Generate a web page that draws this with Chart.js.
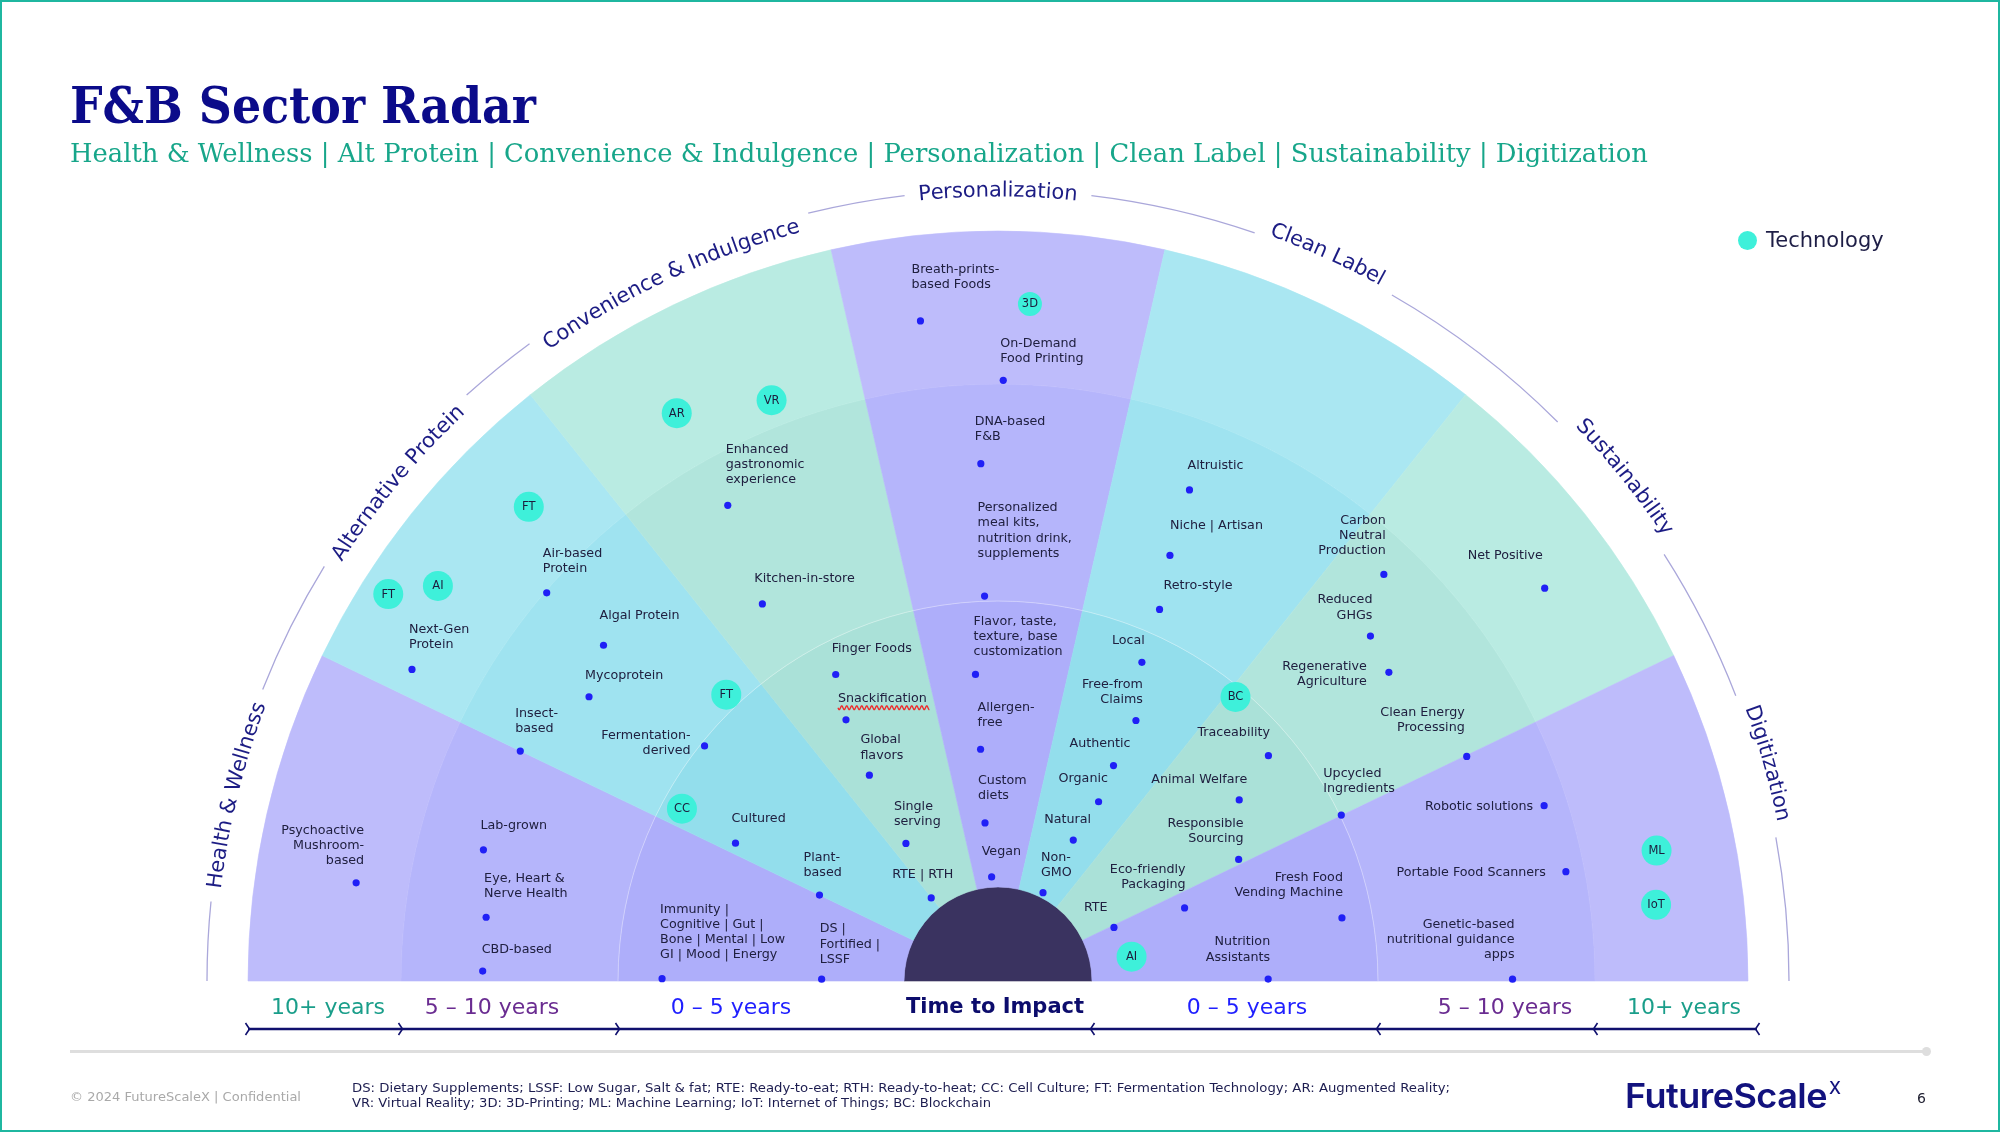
<!DOCTYPE html>
<html>
<head>
<meta charset="utf-8">
<title>F&amp;B Sector Radar</title>
<script src="https://cdn.jsdelivr.net/npm/chart.js@4.4.1/dist/chart.umd.min.js"></script>
<style>
  html, body { margin:0; padding:0; background:#ffffff; }
  #page { position:relative; width:2000px; height:1132px; overflow:hidden; background:#ffffff; }
  #page canvas { position:absolute; left:0; top:0; }
  .t { position:absolute; white-space:nowrap; line-height:1; transform-origin:0 50%; }
  #frame { position:absolute; left:0; top:0; width:2000px; height:1132px; box-sizing:border-box; border:2px solid #1fb7a0; pointer-events:none; }
</style>
</head>
<body>
<div id="page">
  <canvas id="sectorsCanvas" width="2000" height="1132"></canvas>
  <canvas id="radarCanvas" width="2000" height="1132"></canvas>

  <div class="t" data-w="466" style="left:70px;top:81px;font-weight:bold;font-size:50px;font-family:'DejaVu Serif';color:#0b0b8a;">F&amp;B Sector Radar</div>
  <div class="t" data-w="1578" style="left:70px;top:139.5px;font-size:26px;font-family:'DejaVu Serif';color:#17a68a;">Health &amp; Wellness | Alt Protein | Convenience &amp; Indulgence | Personalization | Clean Label | Sustainability | Digitization</div>

  <div style="position:absolute;left:1738px;top:230.5px;width:19px;height:19px;border-radius:50%;background:#3ef0da;"></div>
  <div class="t" style="left:1766px;top:229.5px;font-size:21px;font-family:'DejaVu Sans';color:#1e1e46;">Technology</div>

  <div style="position:absolute;left:70px;top:1049.5px;width:1856px;height:3px;background:#dedede;"></div>
  <div style="position:absolute;left:1921.5px;top:1046.5px;width:9px;height:9px;border-radius:50%;background:#dedede;"></div>

  <div class="t" data-w="231" style="left:70px;top:1089.5px;font-size:13px;font-family:'DejaVu Sans';color:#a9a9a9;">© 2024 FutureScaleX | Confidential</div>
  <div class="t" data-w="1098" style="left:352px;top:1082px;font-size:12.5px;font-family:'DejaVu Sans';color:#1d1d50;">DS: Dietary Supplements; LSSF: Low Sugar, Salt &amp; fat; RTE: Ready-to-eat; RTH: Ready-to-heat; CC: Cell Culture; FT: Fermentation Technology; AR: Augmented Reality;</div>
  <div class="t" data-w="639" style="left:352px;top:1097px;font-size:12.5px;font-family:'DejaVu Sans';color:#1d1d50;">VR: Virtual Reality; 3D: 3D-Printing; ML: Machine Learning; IoT: Internet of Things; BC: Blockchain</div>

  <div class="t" data-w="202" style="left:1625px;top:1078.6px;font-size:34.4px;font-family:Inter;font-weight:600;color:#12127e;letter-spacing:-0.5px;">FutureScale</div>
  <div class="t" style="left:1829px;top:1080px;font-size:17px;font-family:Inter;font-weight:500;color:#12127e;">X</div>
  <div class="t" style="left:1917px;top:1090.7px;font-size:14px;font-family:'DejaVu Sans';color:#222233;">6</div>

  <div id="frame"></div>
</div>

<script>
// ================= DATA =================
const sectors = ['Health & Wellness', 'Alternative Protein', 'Convenience & Indulgence', 'Personalization', 'Clean Label', 'Sustainability', 'Digitization'];
const horizonLabels = ['0 – 5 years', '5 – 10 years', '10+ years'];
const horizonYears = [0, 5, 10, 15];

const trendLabels = [
  'Psychoactive\nMushroom-\nbased', 'Lab-grown', 'Eye, Heart &\nNerve Health', 'CBD-based',
  'Immunity |\nCognitive | Gut |\nBone | Mental | Low\nGI | Mood | Energy', 'DS |\nFortified |\nLSSF',
  'Next-Gen\nProtein', 'Air-based\nProtein', 'Algal Protein', 'Mycoprotein', 'Insect-\nbased',
  'Fermentation-\nderived', 'Cultured', 'Plant-\nbased',
  'Enhanced\ngastronomic\nexperience', 'Kitchen-in-store', 'Finger Foods', 'Snackification',
  'Global\nflavors', 'Single\nserving', 'RTE | RTH',
  'Breath-prints-\nbased Foods', 'On-Demand\nFood Printing', 'DNA-based\nF&B',
  'Personalized\nmeal kits,\nnutrition drink,\nsupplements', 'Flavor, taste,\ntexture, base\ncustomization',
  'Allergen-\nfree', 'Custom\ndiets', 'Vegan',
  'Altruistic', 'Niche | Artisan', 'Retro-style', 'Local', 'Free-from\nClaims', 'Authentic',
  'Organic', 'Natural', 'Non-\nGMO',
  'Carbon\nNeutral\nProduction', 'Net Positive', 'Reduced\nGHGs', 'Regenerative\nAgriculture',
  'Clean Energy\nProcessing', 'Upcycled\nIngredients', 'Traceability', 'Animal Welfare',
  'Responsible\nSourcing', 'Eco-friendly\nPackaging', 'RTE',
  'Nutrition\nAssistants', 'Fresh Food\nVending Machine', 'Robotic solutions', 'Portable Food Scanners',
  'Genetic-based\nnutritional guidance\napps'
];
const trendSector = [0,0,0,0,0,0, 1,1,1,1,1,1,1,1, 2,2,2,2,2,2,2, 3,3,3,3,3,3,3,3, 4,4,4,4,4,4,4,4,4, 5,5,5,5,5,5,5,5,5,5,5, 6,6,6,6,6];
// angle on the half circle (degrees, 180 = left, 0 = right)
const trendAngle = [171.3,165.7,172.9,178.9,179.6,179.4, 152.0,139.3,139.6,145.2,154.3,141.3,152.3,154.3,
  119.6,122.0,117.9,120.2,122.0,123.8,128.8, 96.7,89.5,91.9,92.0,94.2,94.3,94.7,93.5,
  68.7,68.0,66.5,65.7,62.1,61.8,60.7,61.9,63.0, 46.5,35.7,42.8,38.3,25.6,25.8,39.8,36.9,26.8,21.4,24.8,
  0.4,10.4,17.8,10.9,0.2];
// time to impact (years)
const trendYears = [11.71,8.48,8.13,8.12,4.23,1.44, 12.18,9.96,8.18,7.72,8.46,4.93,3.54,1.82,
  8.85,6.49,4.42,3.64,2.60,1.25,0.22, 12.21,10.12,8.17,5.12,3.73,2.42,1.13,0.18,
  8.39,6.82,5.58,4.47,3.51,2.63,1.95,1.15,0.09, 9.16,12.49,7.94,7.72,8.22,5.03,4.51,3.63,3.07,1.86,0.59,
  3.08,4.47,9.46,9.57,8.10];

const techLabels = ['FT','AI','FT','FT','CC','AR','VR','3D','BC','AI','ML','IoT'];
const techSector = [1,1,1,1,1,2,2,3,5,6,6,6];
const techAngle = [147.6,144.8,134.7,133.5,151.4,119.5,111.3,87.3,50.1,10.3,11.2,6.6];
const techYears = [14.09,12.89,12.29,5.34,4.65,11.81,10.86,12.64,4.83,0.73,12.43,12.14];

// ================= LAYOUT / STYLE =================
const W = 2000, H = 1132;
const CX = 998, CY = 981;                 // centre of the half radar
const RING_R = [94, 380, 597, 750];       // radius (px) at 0, 5, 10, 15 years
const LABEL_ARC_R = 791;
const sectorLabelAngle = [166.3, 140.3, 115.1, 90, 65.6, 38.8, 15.8];
const sectorLabelR = [788, 784, 780, 790, 799, 806, 801];
const sectorFamily = ['purple','cyan','mint','purple','cyan','mint','purple'];
const palette = {               // 10+, 5-10, 0-5
  purple: ['#bebcfb', '#b5b5fb', '#aeaefa'],
  cyan:   ['#aae7f2', '#9fe3f0', '#93deec'],
  mint:   ['#b9ebe2', '#b1e5dc', '#aae1d8']
};
const holeColor = '#3a3360';
const labelAlign = ['R','L','L','L','L','L', 'L','L','L','L','L','R','L','L', 'L','L','L','L','L','L','L',
  'L','L','L','L','L','L','L','L', 'L','L','L','L','R','L','L','L','L',
  'R','L','R','R','R','L','L','L','R','R','L', 'R','R','R','R','R'];
const labelDX = [8,-3,-2,-1,-2,-2, -3,-4,-4,-4,-5,-14,-4,-16, -2,-8,-4,-8,-9,-12,-39,
  -9,-3,-6,-7,-2,-3,-7,-10, -2,0,4,-30,7,-44,-40,-29,-2, 2,-77,2,-22,-2,-18,-71,-88,5,1,-30, 2,1,-11,-20,2];
const labelDY = [-52,-24,-39,-21,-69,-50, -40,-39,-30,-21,-37,-10,-24,-37, -56,-25,-26,-21,-35,-37,-23,
  -51,-37,-42,-88,-53,-42,-42,-25, -24,-30,-24,-22,-36,-22,-23,-20,-35,
  -54,-32,-36,-6,-44,-41,-23,-20,-36,-38,-20, -37,-40,1,1,-55];
const squiggleLabels = ['Snackification'];
const techRadius = [15,15,15,15,15,15,15,12,15,15,15,15];

const axisLabels = ['10+ years','5 – 10 years','0 – 5 years','Time to Impact','0 – 5 years','5 – 10 years','10+ years'];
const axisLabelX = [-670, -506, -267, -3, 249, 507, 686];
const axisLabelColor = ['#1a9e8a','#6a2c91','#1f1fff','#0c0c6c','#1f1fff','#6a2c91','#1a9e8a'];

function yearsToR(y) {
  const seg = Math.min(2, Math.floor(y / 5));
  const f = (y - horizonYears[seg]) / 5;
  return RING_R[seg] + f * (RING_R[seg + 1] - RING_R[seg]);
}
function polar(angleDeg, years) {
  const r = yearsToR(years), a = angleDeg * Math.PI / 180;
  return { x: r * Math.cos(a), y: r * Math.sin(a) };
}

// ================= SECTORS (doughnut) =================
const ringDatasets = [];
for (let ring = 0; ring < 3; ring++) {
  const cols = sectors.map((s, i) => palette[sectorFamily[i]][ring]);
  ringDatasets.push({
    label: horizonLabels[2 - ring],
    data: sectors.map(() => 1),
    backgroundColor: cols,
    borderColor: cols,
    borderWidth: 0.6,
    weight: RING_R[3 - ring] - RING_R[2 - ring]
  });
}
ringDatasets.push({ label: 'core', data: [1], backgroundColor: [holeColor], borderColor: [holeColor], borderWidth: 0.6, weight: RING_R[0] });

const vOff = 2 * CY - RING_R[3] - H;
new Chart(document.getElementById('sectorsCanvas'), {
  type: 'doughnut',
  data: { labels: sectors, datasets: ringDatasets },
  options: {
    responsive: false, animation: false, devicePixelRatio: 1, events: [],
    circumference: 180, rotation: -90, cutout: 0, radius: RING_R[3],
    layout: { autoPadding: false, padding: { left: 0, right: W - 2 * CX, top: Math.max(0, vOff), bottom: Math.max(0, -vOff) } },
    plugins: { legend: { display: false }, tooltip: { enabled: false } }
  }
});

// ================= POINTS (scatter) =================
const trendPoints = trendAngle.map((a, i) => polar(a, trendYears[i]));
const techPoints = techAngle.map((a, i) => polar(a, techYears[i]));

const decor = {
  id: 'decor',
  beforeDatasetsDraw(chart) {
    const ctx = chart.ctx, xs = chart.scales.x, ys = chart.scales.y;
    const cx = xs.getPixelForValue(0), cy = ys.getPixelForValue(0);
    const rp = r => xs.getPixelForValue(r) - cx;
    ctx.save();
    // faint line at the 5-year ring
    ctx.strokeStyle = 'rgba(255,255,255,0.35)';
    ctx.lineWidth = 1;
    ctx.beginPath(); ctx.arc(cx, cy, rp(yearsToR(5)), Math.PI, 2 * Math.PI); ctx.stroke();

    // curved sector labels + arc line
    const R = rp(LABEL_ARC_R);
    ctx.font = '21px "DejaVu Sans"';
    ctx.textAlign = 'center';
    ctx.textBaseline = 'middle';
    ctx.fillStyle = '#1c1c84';
    const gaps = [];
    sectors.forEach((text, i) => {
      const total = ctx.measureText(text).width;
      const ac = sectorLabelAngle[i] * Math.PI / 180;
      const Ri = rp(sectorLabelR[i]);
      gaps.push([ac + (total / 2 + 14) / R, ac - (total / 2 + 14) / R]);
      for (let k = 0; k < text.length; k++) {
        const s0 = ctx.measureText(text.slice(0, k)).width;
        const s1 = ctx.measureText(text.slice(0, k + 1)).width;
        const mid = ac + (total / 2 - (s0 + s1) / 2) / Ri;
        ctx.save();
        ctx.translate(cx + Ri * Math.cos(mid), cy - Ri * Math.sin(mid));
        ctx.rotate(Math.PI / 2 - mid);
        ctx.fillText(text[k], 0, 0);
        ctx.restore();
      }
    });
    ctx.strokeStyle = '#aaa7da';
    ctx.lineWidth = 1.3;
    let from = Math.PI;
    gaps.forEach(g => {
      ctx.beginPath(); ctx.arc(cx, cy, R, -from, -g[0]); ctx.stroke();
      from = g[1];
    });
    ctx.beginPath(); ctx.arc(cx, cy, R, -from, 0); ctx.stroke();

    // time-to-impact axis
    const ay = cy + 48;
    ctx.strokeStyle = '#10106e';
    ctx.lineWidth = 2.6;
    const leftEnd = cx - rp(yearsToR(15)), rightEnd = cx + rp(yearsToR(15)) + 9;
    ctx.beginPath(); ctx.moveTo(leftEnd, ay); ctx.lineTo(rightEnd, ay); ctx.stroke();
    ctx.lineWidth = 1.6;
    [15, 10, 5].forEach(y => {
      const x = cx - rp(yearsToR(y));
      ctx.beginPath(); ctx.moveTo(x - 2.5, ay - 6); ctx.lineTo(x + 1.5, ay); ctx.lineTo(x - 2.5, ay + 6); ctx.stroke();
    });
    [0, 5, 10].map(y => cx + rp(yearsToR(y))).concat([rightEnd]).forEach(x => {
      ctx.beginPath(); ctx.moveTo(x + 2.5, ay - 6); ctx.lineTo(x - 1.5, ay); ctx.lineTo(x + 2.5, ay + 6); ctx.stroke();
    });
    axisLabels.forEach((t, i) => {
      ctx.font = (t === 'Time to Impact' ? 'bold 21px' : '22px') + ' "DejaVu Sans"';
      ctx.fillStyle = axisLabelColor[i];
      ctx.textAlign = 'center';
      ctx.fillText(t, cx + axisLabelX[i], cy + 27);
    });
    ctx.restore();
  },
  afterDatasetsDraw(chart) {
    const ctx = chart.ctx;
    ctx.save();
    ctx.textBaseline = 'middle';
    const trendMeta = chart.getDatasetMeta(0);
    ctx.font = '12.7px "DejaVu Sans"';
    trendMeta.data.forEach((el, i) => {
      const lines = trendLabels[i].split('\n');
      const x = el.x + labelDX[i];
      const y0 = el.y + labelDY[i];
      ctx.fillStyle = '#202040';
      ctx.textAlign = labelAlign[i] === 'R' ? 'right' : 'left';
      lines.forEach((ln, k) => ctx.fillText(ln, x, y0 + k * 15.1));
      if (squiggleLabels.includes(trendLabels[i])) {
        const w = ctx.measureText(lines[0]).width + 3;
        ctx.strokeStyle = '#ee2a2a';
        ctx.lineWidth = 1.3;
        ctx.beginPath();
        for (let s = 0; s <= w; s += 0.5) {
          const yy = y0 + 9 + 2 * Math.sin(s * Math.PI / 2.5);
          if (s === 0) ctx.moveTo(x + s, yy); else ctx.lineTo(x + s, yy);
        }
        ctx.stroke();
      }
    });
    const techMeta = chart.getDatasetMeta(1);
    ctx.font = '11.5px "DejaVu Sans"';
    ctx.textAlign = 'center';
    ctx.fillStyle = '#1d1d3d';
    techMeta.data.forEach((el, i) => ctx.fillText(techLabels[i], el.x, el.y + 0.5));
    ctx.restore();
  }
};

new Chart(document.getElementById('radarCanvas'), {
  type: 'scatter',
  data: {
    datasets: [
      { label: 'Trend', data: trendPoints, pointRadius: 3.6, pointBackgroundColor: '#2020f6', pointBorderWidth: 0, pointHoverRadius: 3.6, clip: false },
      { label: 'Technology', data: techPoints, pointRadius: techRadius, pointBackgroundColor: '#3ef0da', pointBorderWidth: 0, pointHoverRadius: techRadius, clip: false }
    ]
  },
  options: {
    responsive: false, animation: false, devicePixelRatio: 1, events: [],
    layout: { autoPadding: false, padding: 0 },
    scales: {
      x: { type: 'linear', min: -CX, max: W - CX, display: false },
      y: { type: 'linear', min: -(H - CY), max: CY, display: false }
    },
    plugins: { legend: { display: false }, tooltip: { enabled: false } }
  },
  plugins: [decor]
});

// fit page-level text widths to the layout
document.querySelectorAll('[data-w]').forEach(el => {
  const w = el.getBoundingClientRect().width;
  if (w > 0) el.style.transform = 'scaleX(' + (parseFloat(el.dataset.w) / w) + ')';
});
</script>
</body>
</html>
